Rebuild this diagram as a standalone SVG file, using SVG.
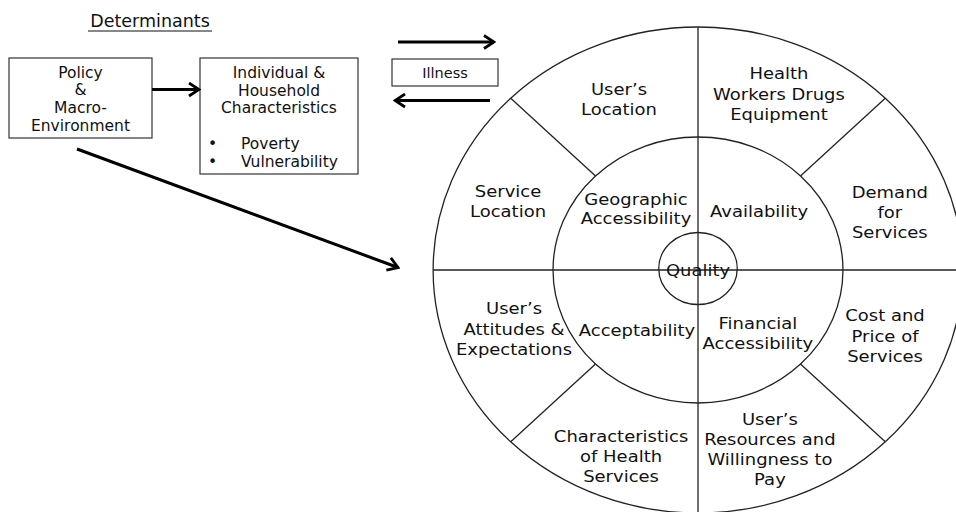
<svg xmlns="http://www.w3.org/2000/svg" width="956" height="512" viewBox="0 0 956 512">
  <style>
    .t { font-family: "DejaVu Sans", Verdana, "Liberation Sans", sans-serif; fill: #111; }
    .lt { font-size: 15.5px; text-anchor: middle; }
    .wt { font-size: 16.5px; text-anchor: middle; }
    .box { fill: #fff; stroke: #333; stroke-width: 1.2; }
    .arr { stroke: #000; stroke-width: 3; fill: none; }
    .wl { stroke: #222; stroke-width: 1.3; fill: none; }
  </style>
  <defs>
    <marker id="head" markerUnits="userSpaceOnUse" viewBox="0 0 14 16" refX="12" refY="8" markerWidth="14" markerHeight="16" orient="auto">
      <path d="M2,1.5 L12,8 L2,14.5" fill="none" stroke="#000" stroke-width="2.8"/>
    </marker>
  </defs>
  <rect width="956" height="512" fill="#fff"/>

  <g id="title">
    <text class="t" x="150" y="27" font-size="17.5" text-anchor="middle">Determinants</text>
    <line x1="88" y1="31" x2="212" y2="31" stroke="#111" stroke-width="1.2"/>
  </g>

  <g id="policy">
    <rect class="box" x="9" y="58" width="143" height="80"/>
    <text class="t lt" x="80.5" y="77.5">Policy</text>
    <text class="t lt" x="80.5" y="95">&amp;</text>
    <text class="t lt" x="80.5" y="113">Macro-</text>
    <text class="t lt" x="80.5" y="130.5">Environment</text>
  </g>

  <g id="household">
    <rect class="box" x="200" y="58" width="158" height="116"/>
    <text class="t lt" x="279" y="78">Individual &amp;</text>
    <text class="t lt" x="279" y="95.5">Household</text>
    <text class="t lt" x="279" y="113">Characteristics</text>
    <text class="t" font-size="15.5" x="208" y="149">•</text>
    <text class="t" font-size="15.5" x="241" y="149">Poverty</text>
    <text class="t" font-size="15.5" x="208" y="167">•</text>
    <text class="t" font-size="15.5" x="241" y="167">Vulnerability</text>
  </g>

  <g id="illness">
    <rect class="box" x="392" y="59" width="106" height="27"/>
    <text class="t" font-size="14.5" x="445" y="77.5" text-anchor="middle">Illness</text>
  </g>

  <g id="connectors">
    <line class="arr" x1="152" y1="89.5" x2="199" y2="89.5" marker-end="url(#head)"/>
    <line class="arr" x1="398" y1="42" x2="494" y2="42" marker-end="url(#head)"/>
    <line class="arr" x1="490" y1="100.5" x2="395" y2="100.5" marker-end="url(#head)"/>
    <line class="arr" stroke-width="2.7" x1="77" y1="149" x2="398" y2="267.5" marker-end="url(#head)"/>
  </g>

  <g id="wheel" transform="translate(698 270) scale(1.09 1)">
    <g id="wheel-lines">
      <circle class="wl" cx="0" cy="0" r="243" fill="#fff" vector-effect="non-scaling-stroke"/>
      <line class="wl" x1="-243" y1="0" x2="243" y2="0" vector-effect="non-scaling-stroke"/>
      <line class="wl" x1="0" y1="-243" x2="0" y2="243" vector-effect="non-scaling-stroke"/>
      <line class="wl" x1="-171.8" y1="-171.8" x2="-94" y2="-94" vector-effect="non-scaling-stroke"/>
      <line class="wl" x1="171.8" y1="-171.8" x2="94" y2="-94" vector-effect="non-scaling-stroke"/>
      <line class="wl" x1="-171.8" y1="171.8" x2="-94" y2="94" vector-effect="non-scaling-stroke"/>
      <line class="wl" x1="171.8" y1="171.8" x2="94" y2="94" vector-effect="non-scaling-stroke"/>
      <circle class="wl" cx="0" cy="0" r="133" vector-effect="non-scaling-stroke"/>
    </g>
    <g id="quality">
      <circle class="wl" cx="0" cy="-1.5" r="36" fill="#fff" vector-effect="non-scaling-stroke"/>
      <text class="t wt" x="0" y="6">Quality</text>
    </g>
    <g id="users-location">
      <text class="t wt" x="-72.5" y="-175">User’s</text>
      <text class="t wt" x="-72.5" y="-155.5">Location</text>
    </g>
    <g id="health-workers">
      <text class="t wt" x="74.3" y="-191">Health</text>
      <text class="t wt" x="74.3" y="-170.5">Workers Drugs</text>
      <text class="t wt" x="74.3" y="-150">Equipment</text>
    </g>
    <g id="service-location">
      <text class="t wt" x="-174.3" y="-73">Service</text>
      <text class="t wt" x="-174.3" y="-53">Location</text>
    </g>
    <g id="geographic-accessibility">
      <text class="t wt" x="-56.9" y="-65">Geographic</text>
      <text class="t wt" x="-56.9" y="-46">Accessibility</text>
    </g>
    <g id="availability">
      <text class="t wt" x="56" y="-53">Availability</text>
    </g>
    <g id="demand">
      <text class="t wt" x="176" y="-72">Demand</text>
      <text class="t wt" x="176" y="-52">for</text>
      <text class="t wt" x="176" y="-32">Services</text>
    </g>
    <g id="attitudes">
      <text class="t wt" x="-168.8" y="44">User’s</text>
      <text class="t wt" x="-168.8" y="65">Attitudes &amp;</text>
      <text class="t wt" x="-168.8" y="85">Expectations</text>
    </g>
    <g id="acceptability">
      <text class="t wt" x="-56" y="66">Acceptability</text>
    </g>
    <g id="financial-accessibility">
      <text class="t wt" x="55" y="59">Financial</text>
      <text class="t wt" x="55" y="79">Accessibility</text>
    </g>
    <g id="cost-price">
      <text class="t wt" x="171.6" y="51">Cost and</text>
      <text class="t wt" x="171.6" y="72">Price of</text>
      <text class="t wt" x="171.6" y="92">Services</text>
    </g>
    <g id="characteristics">
      <text class="t wt" x="-70.6" y="172">Characteristics</text>
      <text class="t wt" x="-70.6" y="192">of Health</text>
      <text class="t wt" x="-70.6" y="212">Services</text>
    </g>
    <g id="resources">
      <text class="t wt" x="66" y="155">User’s</text>
      <text class="t wt" x="66" y="175">Resources and</text>
      <text class="t wt" x="66" y="195">Willingness to</text>
      <text class="t wt" x="66" y="215">Pay</text>
    </g>
  </g>
</svg>
